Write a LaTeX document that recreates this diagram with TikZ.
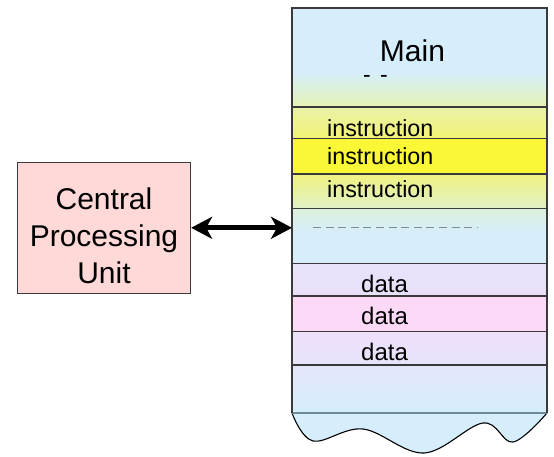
\documentclass[tikz,border=0pt]{standalone}
\usepackage{fontspec}
\setmainfont{Liberation Sans}
\usetikzlibrary{arrows.meta}
\definecolor{memblue}{HTML}{D6EEFB}
\definecolor{ygreen}{HTML}{E6F2B4}
\definecolor{paleyA}{HTML}{E9F1A8}
\definecolor{paleyB}{HTML}{F3F374}
\definecolor{brighty}{HTML}{FAF836}
\definecolor{paleyC}{HTML}{F1F280}
\definecolor{paleyD}{HTML}{E0F0C6}
\definecolor{greenblue}{HTML}{DDF0DC}
\definecolor{lavA}{HTML}{E8E2FA}
\definecolor{lavB}{HTML}{EAE0FA}
\definecolor{pinkrow}{HTML}{FDD9F8}
\definecolor{lavC}{HTML}{EFDFFA}
\definecolor{lavD}{HTML}{E6E4FA}
\definecolor{lavE}{HTML}{E3E6FA}
\definecolor{cpufill}{HTML}{FFD8D8}
\definecolor{boxline}{HTML}{3A3A3A}
\definecolor{dashgray}{HTML}{7E8C9A}
\definecolor{bottomline}{HTML}{6E8A98}
\tikzset{
  rowline/.style={draw=boxline, line width=1.2pt},
  memline/.style={draw=boxline, line width=1.3pt},
  celltext/.style={anchor=base west, inner sep=0pt, font=\fontsize{23.3}{28}\selectfont},
  cpubox/.style={draw=boxline, fill=cpufill, line width=1.3pt, minimum width=173pt, minimum height=131pt, inner sep=0pt},
  bigarrow/.style={line width=5.2pt, {Stealth[length=21pt,width=22pt,inset=6pt]}-{Stealth[length=21pt,width=22pt,inset=6pt]}},
  wave/.style={smooth, tension=0.6}
}
\begin{document}
\begin{tikzpicture}[x=1pt,y=-1pt]
\useasboundingbox (0,0) rectangle (554,456);
% memory block (invisible frame node)
\node[minimum width=255pt, minimum height=405pt, inner sep=0pt, outer sep=0pt] (mem) at (419.5,210.5) {};
% background bands
\fill[memblue] (292,8) rectangle (547,413);
\shade[top color=memblue, bottom color=ygreen] (292,72) rectangle (547,107);
\shade[top color=paleyA, bottom color=paleyB] (292,107) rectangle (547,138);
\fill[brighty] (292,138) rectangle (547,174);
\shade[top color=paleyC, bottom color=paleyD] (292,174) rectangle (547,208);
\shade[top color=greenblue, bottom color=memblue] (292,208) rectangle (547,232);
\shade[top color=lavA, bottom color=lavB] (292,263) rectangle (547,296);
\fill[pinkrow] (292,296) rectangle (547,332);
\shade[top color=lavC, bottom color=lavD] (292,332) rectangle (547,365);
\shade[top color=lavE, bottom color=memblue] (292,365) rectangle (547,413);
% wavy bottom
\fill[memblue] plot[wave] coordinates {(292,413) (313,441) (363,429) (424,453) (483,423) (513,442) (547,413)} -- cycle;
\draw[line width=1.1pt] plot[wave] coordinates {(292,413) (313,441) (363,429) (424,453) (483,423) (513,442) (547,413)};
% row lines
\foreach \yy in {107,138.3,174,208.3,263.3,296,331.7,365} {\draw[rowline] (292,\yy) -- (547,\yy);}
\draw[draw=bottomline, line width=1.2pt] (292,413) -- (547,413);
\draw[memline] (292,413) -- (292,8) -- (547,8) -- (547,413);
% dashed separator
\draw[dashgray, line width=1pt, dash pattern=on 8pt off 4.6pt] (313,227.3) -- (477,227.3);
% texts
\node[anchor=base, inner sep=0pt, font=\fontsize{30}{36}\selectfont] (maintxt) at (412.5,61.7) {Main};
\node[anchor=base, inner sep=0pt, font=\fontsize{23}{28}\selectfont] (dots) at (375.5,82.3) {-\hspace{3pt} -};
\node[celltext] (i1) at (327,136.7) {instruction};
\node[celltext] (i2) at (327,164) {instruction};
\node[celltext] (i3) at (327,197.7) {instruction};
\node[celltext, font=\fontsize{24}{28}\selectfont] (d1) at (361,292.7) {data};
\node[celltext, font=\fontsize{24}{28}\selectfont] (d2) at (361,324) {data};
\node[celltext, font=\fontsize{24}{28}\selectfont] (d3) at (361,360) {data};
% CPU
\node[cpubox] (cpu) at (104,227.8) {};
\node[align=center, inner sep=0pt, font=\fontsize{30}{36.7}\selectfont] (cputxt) at (104,235.9) {Central\\Processing\\Unit};
% connector
\draw[bigarrow] (cpu.east) -- (cpu.east -| mem.west);
\end{tikzpicture}
\end{document}
